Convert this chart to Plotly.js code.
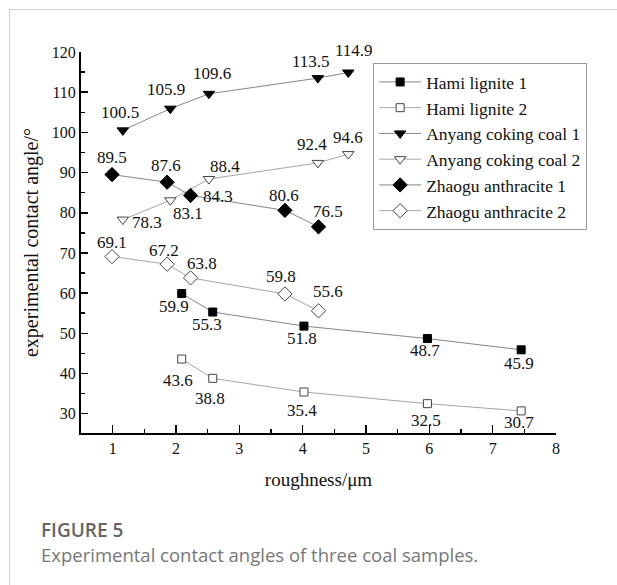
<!DOCTYPE html>
<html>
<head>
<meta charset="utf-8">
<script src="https://cdn.plot.ly/plotly-3.0.1.min.js"></script>
<style>
  html, body { margin:0; padding:0; background:#fff; }
  #wrap { position:relative; width:617px; height:585px; overflow:hidden; }
  #chart { position:absolute; left:0; top:0; width:617px; height:585px; }
  #frame { position:absolute; left:9px; top:9px; width:620px; height:600px;
           border-left:1px solid #cfcfcf; border-top:1px solid #cfcfcf; pointer-events:none; }
  #figlabel { position:absolute; left:41px; top:517px; font-family:"Open Sans", "Noto Sans", sans-serif;
              font-size:19px; font-weight:600; color:#666; }
  #figcap { position:absolute; left:41px; top:542px; font-family:"Open Sans", "Noto Sans", sans-serif;
            font-size:18.5px; color:#777; }
</style>
</head>
<body>
<div id="wrap">
  <div id="chart"></div>
  <div id="frame"></div>
  <div id="figlabel">FIGURE 5</div>
  <div id="figcap">Experimental contact angles of three coal samples.</div>
</div>
<script>
// ---- data ----
const seriesNames = ["Hami lignite 1", "Hami lignite 2", "Anyang coking coal 1",
                     "Anyang coking coal 2", "Zhaogu anthracite 1", "Zhaogu anthracite 2"];
const hamiX = [2.09, 2.58, 4.02, 5.97, 7.45];
const hami1Y = [59.9, 55.3, 51.8, 48.7, 45.9];
const hami2Y = [43.6, 38.8, 35.4, 32.5, 30.7];
const anyangX = [1.16, 1.91, 2.52, 4.24, 4.72];
const anyang1Y = [100.5, 105.9, 109.6, 113.5, 114.9];
const anyang2Y = [78.3, 83.1, 88.4, 92.4, 94.6];
const zhaoguX = [0.99, 1.86, 2.23, 3.72, 4.25];
const zhaogu1Y = [89.5, 87.6, 84.3, 80.6, 76.5];
const zhaogu2Y = [69.1, 67.2, 63.8, 59.8, 55.6];
const xTicks = [1, 2, 3, 4, 5, 6, 7, 8];
const yTicks = [30, 40, 50, 60, 70, 80, 90, 100, 110, 120];

// ---- value-label offsets in pixels (style only): [dx, dy] with dy positive = down ----
const offHami1 = [[-8, 13], [-6, 12], [-2, 12.5], [-2, 12], [-2, 14]];
const offHami2 = [[-4, 21], [-3, 20], [-2, 18], [-1, 16.5], [-2, 12]];
const offAny1 = [[-3, -18], [-4, -19], [3, -20], [-7, -17], [6, -22]];
const offAny2 = [[24, 3], [18, 13], [16, -13], [-6, -18], [0, -17]];
const offZh1 = [[0, -17.5], [-1, -17], [27, 1.5], [-1, -15], [9, -15]];
const offZh2 = [[0, -14.5], [-3.5, -14], [11, -14], [-4, -17], [9, -19]];

const serif = 'Liberation Serif';

function mk(name, x, y, symbol, filled, size) {
  return {
    type: 'scatter', mode: 'lines+markers', name: name,
    x: x, y: y,
    line: {color: filled ? '#858585' : '#a5a5a5', width: 1},
    marker: {symbol: symbol, size: size, color: filled ? '#000' : '#fff',
             line: {color: filled ? '#000' : '#444', width: 1}},
    cliponaxis: false
  };
}

function labels(x, y, off) {
  return y.map((v, i) => ({
    x: x[i], y: v, xref: 'x', yref: 'y', text: v.toFixed(1), showarrow: false,
    xanchor: 'center', yanchor: 'middle',
    xshift: off[i][0], yshift: -off[i][1],
    font: {family: serif, size: 17, color: '#111'}
  }));
}

const traces = [
  mk(seriesNames[0], hamiX, hami1Y, 'square', true, 8),
  mk(seriesNames[1], hamiX, hami2Y, 'square', false, 8),
  mk(seriesNames[2], anyangX, anyang1Y, 'triangle-down', true, 10),
  mk(seriesNames[3], anyangX, anyang2Y, 'triangle-down', false, 10),
  mk(seriesNames[4], zhaoguX, zhaogu1Y, 'diamond', true, 11),
  mk(seriesNames[5], zhaoguX, zhaogu2Y, 'diamond', false, 11)
];

const annotations = [].concat(
  labels(hamiX, hami1Y, offHami1),
  labels(hamiX, hami2Y, offHami2),
  labels(anyangX, anyang1Y, offAny1),
  labels(anyangX, anyang2Y, offAny2),
  labels(zhaoguX, zhaogu1Y, offZh1),
  labels(zhaoguX, zhaogu2Y, offZh2)
);

const layout = {
  width: 617, height: 585,
  margin: {l: 81, r: 61, t: 52, b: 152},
  paper_bgcolor: '#fff', plot_bgcolor: '#fff',
  showlegend: true,
  annotations: annotations,
  legend: {x: 0.615, y: 0.971, xanchor: 'left', yanchor: 'top',
           bordercolor: '#9a9a9a', borderwidth: 1, bgcolor: '#fff', itemwidth: 42,
           font: {family: serif, size: 17.5, color: '#111'}, tracegroupgap: 0},
  xaxis: {
    range: [0.5, 8], tickvals: xTicks, ticktext: xTicks.map(String),
    showline: true, linecolor: '#000', linewidth: 2, mirror: false,
    ticks: 'inside', ticklen: 8, tickwidth: 1.5, tickcolor: '#000',
    minor: {dtick: 0.5, tick0: 0.5, ticks: 'inside', ticklen: 4, tickwidth: 1.5, tickcolor: '#000', showgrid: false},
    showgrid: false, zeroline: false,
    tickfont: {family: serif, size: 16, color: '#111'},
    title: {text: 'roughness/μm', font: {family: serif, size: 19, color: '#111'}, standoff: 16}
  },
  yaxis: {
    range: [25.2, 120], tickvals: yTicks, ticktext: yTicks.map(String),
    showline: true, linecolor: '#000', linewidth: 2, mirror: false,
    ticks: 'inside', ticklen: 7, tickwidth: 1.5, tickcolor: '#000',
    minor: {dtick: 5, tick0: 0, ticks: 'inside', ticklen: 4, tickwidth: 1.5, tickcolor: '#000', showgrid: false},
    showgrid: false, zeroline: false,
    tickfont: {family: serif, size: 16, color: '#111'},
    title: {text: 'experimental contact angle/°', font: {family: serif, size: 20, color: '#111'}, standoff: 8}
  }
};

Plotly.newPlot('chart', traces, layout, {displayModeBar: false, staticPlot: true});
</script>
</body>
</html>
